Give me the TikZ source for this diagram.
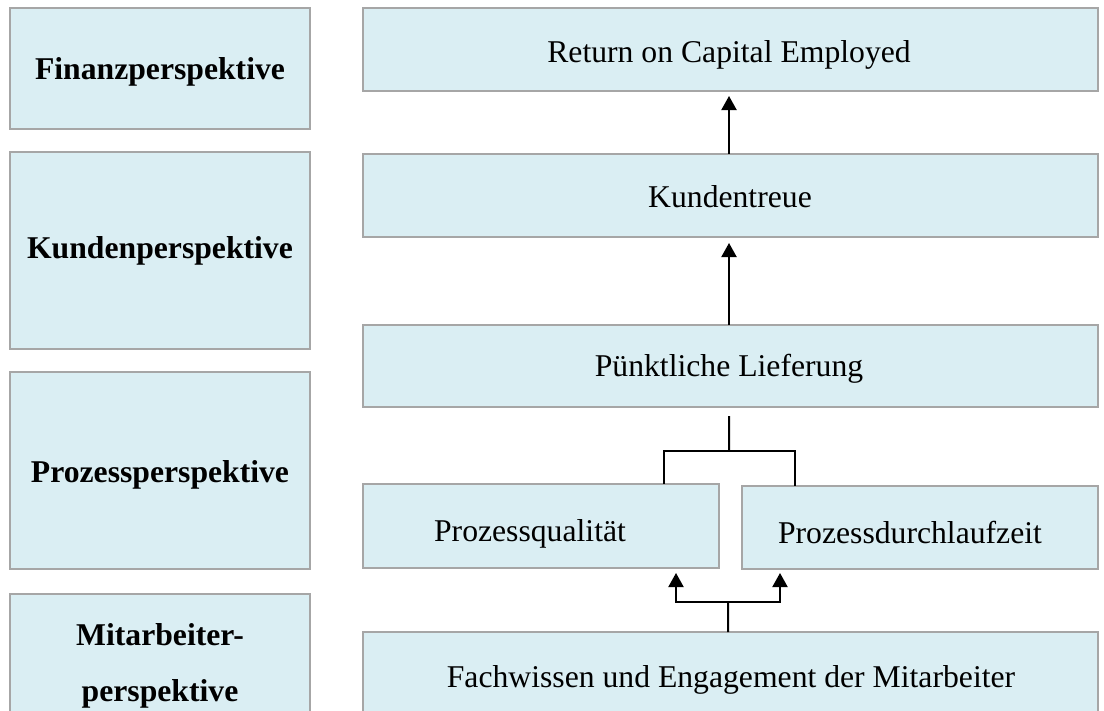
\documentclass[tikz,border=0pt]{standalone}
\usepackage{fontspec}
\setmainfont{Liberation Serif}
\usetikzlibrary{arrows.meta}
\definecolor{boxfill}{HTML}{DAEEF3}
\definecolor{boxline}{HTML}{A6A6A6}
\tikzset{
  panel/.style={draw=boxline, fill=boxfill, line width=1.4bp, inner sep=0pt, outer sep=0pt, anchor=north west},
  lbl/.style={anchor=base, inner sep=0pt, font=\fontsize{31.8}{57}\selectfont},
  bold lbl/.style={lbl, font=\fontsize{31.8}{57}\selectfont\bfseries, align=center},
  conn/.style={line width=2bp, black},
  arr/.style={conn, -{Triangle[width=15bp,length=14bp]}}
}
\begin{document}
\begin{tikzpicture}[x=1bp,y=-1bp]
  \clip (0,0) rectangle (1104,711);
  \fill[white] (0,0) rectangle (1104,711);

  % perspective column
  \node[panel, minimum width=300bp, minimum height=121bp] (fin) at (10,8) {};
  \node[panel, minimum width=300bp, minimum height=197bp] (kun) at (10,152) {};
  \node[panel, minimum width=300bp, minimum height=197bp] (pro) at (10,372) {};
  \node[panel, minimum width=300bp, minimum height=197bp] (mit) at (10,594) {};
  \node[bold lbl] (finT) at (160,80) {Finanzperspektive};
  \node[bold lbl] (kunT) at (160,258) {Kundenperspektive};
  \node[bold lbl] (proT) at (160,482) {Prozessperspektive};
  \node[bold lbl] (mitT1) at (160,645) {Mitarbeiter-};
  \node[bold lbl] (mitT2) at (160,701) {perspektive};

  % objectives
  \node[panel, minimum width=735bp, minimum height=83bp] (roce) at (363,8) {};
  \node[panel, minimum width=735bp, minimum height=83bp] (kt) at (363,154) {};
  \node[panel, minimum width=735bp, minimum height=82bp] (pl) at (363,325) {};
  \node[panel, minimum width=356bp, minimum height=84bp] (pq) at (363,484) {};
  \node[panel, minimum width=356bp, minimum height=83bp] (dz) at (742,486) {};
  \node[panel, minimum width=735bp, minimum height=120bp] (fw) at (363,632) {};
  \node[lbl] (roceT) at (729,63) {Return on Capital Employed};
  \node[lbl] (ktT) at (730,208) {Kundentreue};
  \node[lbl] (plT) at (729,376) {Pünktliche Lieferung};
  \node[lbl] (pqT) at (530,541) {Prozessqualität};
  \node[lbl] (dzT) at (910,543) {Prozessdurchlaufzeit};
  \node[lbl] (fwT) at (731,687) {Fachwissen und Engagement der Mitarbeiter};

  % cause-and-effect links
  \draw[arr, shorten >=5bp] ([xshift=-1.5bp]kt.north) -- ([xshift=-1.5bp]roce.south);
  \draw[arr, shorten >=6bp] ([xshift=-1.5bp]pl.north) -- ([xshift=-1.5bp]kt.south);

  \coordinate (split) at (729,451);
  \draw[conn, shorten <=9bp] ([xshift=-1.5bp]pl.south) -- (split);
  \draw[conn] (split) -| ([xshift=123bp]pq.north);
  \draw[conn] (split) -| ([xshift=-125bp]dz.north);

  \coordinate (fork) at (728,602);
  \draw[conn] ([xshift=-2.5bp]fw.north) -- (fork);
  \draw[arr, shorten >=5bp] (fork) -| ([xshift=135bp]pq.south);
  \draw[arr, shorten >=4bp] (fork) -| ([xshift=-140bp]dz.south);
\end{tikzpicture}
\end{document}
